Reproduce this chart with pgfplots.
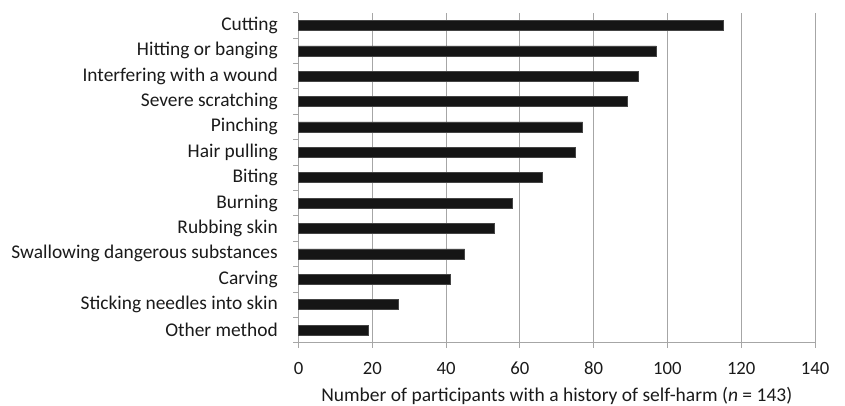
\documentclass[border=0pt]{standalone}
\usepackage{pgfplots}
\pgfplotsset{compat=1.18}
\usepackage{fontspec}
\setmainfont{Carlito}
\definecolor{barc}{HTML}{151515}
\definecolor{gridc}{HTML}{A6A6A6}
\definecolor{axc}{HTML}{A6A6A6}
\definecolor{txt}{HTML}{1A1A1A}
\begin{document}
\begin{tikzpicture}
\useasboundingbox (-298.5pt,-63.3pt) rectangle (546.5pt,342.7pt);
\begin{axis}[
  at={(0pt,0pt)}, anchor=south west,
  scale only axis, width=516.5pt, height=330pt,
  xmin=0, xmax=140, ymin=-0.5, ymax=12.5,
  xtick={0,20,...,140},
  xmajorgrids,
  major grid style={gridc, line width=0.8pt},
  axis x line*=bottom, axis y line*=left,
  axis line style={axc, line width=0.8pt},
  tick style={axc, line width=0.8pt},
  tick align=outside,
  major tick length=5pt,
  ytick={-0.5,0.5,...,12.5},
  yticklabels={},
  extra y ticks={0,1,2,3,4,5,6,7,8,9,10,11,12},
  extra y tick labels={Other method, Sticking needles into skin, Carving, Swallowing dangerous substances, Rubbing skin, Burning, Biting, Hair pulling, Pinching, Severe scratching, Interfering with a wound, Hitting or banging, Cutting},
  extra y tick style={major tick length=0pt, yticklabel style={anchor=east, inner sep=0pt, xshift=-20.5pt, font=\fontsize{19.4}{22}\selectfont, text=txt}},
  xticklabel style={anchor=center, inner sep=0pt, yshift=-25.8pt+5pt, font=\fontsize{18.7}{22}\selectfont, text=txt},
  /pgf/number format/assume math mode=true,
  xlabel={Number of participants with a history of self-harm (\textit{n} = 143)},
  xlabel style={at={(axis description cs:0.5,0)}, anchor=base, inner sep=0pt, yshift=-58.5pt, font=\fontsize{19.5}{22}\selectfont, text=txt},
  clip=false,
]
\addplot[xbar, bar width=10pt, fill=barc, draw=barc!80!white, line width=0.4pt] coordinates {
  (19,0) (27,1) (41,2) (45,3) (53,4) (58,5) (66,6) (75,7) (77,8) (89,9) (92,10) (97,11) (115,12)
};
\end{axis}
\end{tikzpicture}
\end{document}
